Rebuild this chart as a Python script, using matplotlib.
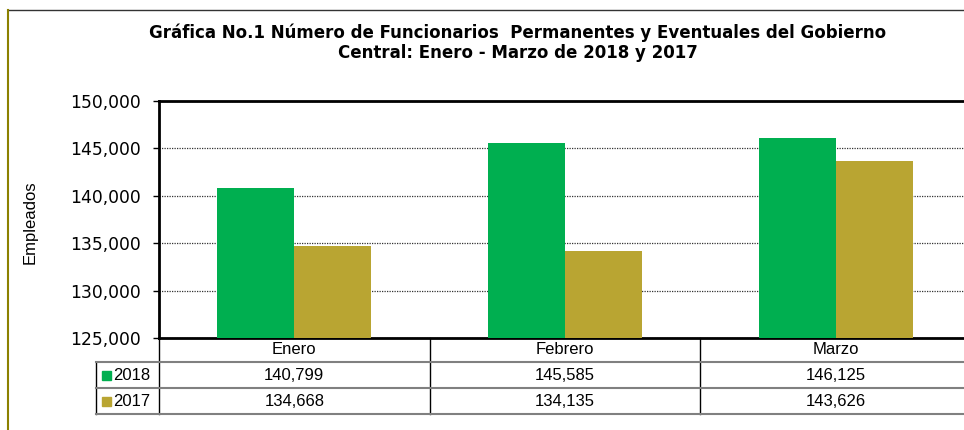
import numpy as np
import matplotlib
matplotlib.use("Agg")
import matplotlib.pyplot as plt
from matplotlib import transforms
from matplotlib.lines import Line2D
from matplotlib.patches import Rectangle

# Data
meses = ["Enero", "Febrero", "Marzo"]
anios = ["2018", "2017"]
valores_2018 = [140799, 145585, 146125]
valores_2017 = [134668, 134135, 143626]
colores = ["#00AF50", "#B9A532"]

plt.rcParams["font.family"] = ["Liberation Sans", "DejaVu Sans"]
wide = ["DejaVu Sans"]  # the reference's title and tick labels are drawn wider

W, H = 964, 430
fig = plt.figure(figsize=(W / 100, H / 100), dpi=100)

def fx(px):
    return px / W

def fy(py):
    return 1 - py / H

# plot area (right edge runs past the picture, as in the original)
ax = fig.add_axes([fx(159), fy(338), fx(971) - fx(159), fy(101) - fy(338)])
x = np.arange(len(meses))
w = 0.285
ax.bar(x - w / 2, valores_2018, w, color=colores[0], zorder=3)
ax.bar(x + w / 2, valores_2017, w, color=colores[1], zorder=3)

ax.set_xlim(-0.5, len(meses) - 0.5)
ax.set_ylim(125000, 150000)
ax.set_yticks(np.arange(125000, 150001, 5000))
ax.yaxis.set_major_formatter(matplotlib.ticker.FuncFormatter(lambda v, p: f"{v:,.0f}"))
ax.tick_params(axis="y", length=4.5, width=1, direction="out", pad=8.5)
for lab in ax.get_yticklabels():
    lab.set_family(wide)
    lab.set_fontsize(12.3)
ax.set_xticks([])
ax.grid(axis="y", color="#333333", linestyle=(0, (1, 1)), linewidth=0.9, zorder=1)
for s in ["top", "left", "bottom"]:
    ax.spines[s].set_linewidth(2)
ax.spines["right"].set_visible(False)

fig.text(fx(30), fy(222), "Empleados", rotation=90, ha="center", va="center", fontsize=12)

fig.text(fx(518), fy(33), "Gráfica No.1 Número de Funcionarios  Permanentes y Eventuales del Gobierno",
         ha="center", va="center", fontsize=12, fontweight="bold", family=wide)
fig.text(fx(518), fy(53), "Central: Enero - Marzo de 2018 y 2017",
         ha="center", va="center", fontsize=12, fontweight="bold", family=wide)

# outer frame pieces
fig.add_artist(Line2D([fx(8), 1.0], [fy(10), fy(10)], color="#333333", lw=1))
fig.add_artist(Line2D([fx(8), fx(8)], [fy(10), 0], color="#8B8000", lw=1.5))

# data table
tr = transforms.blended_transform_factory(ax.transData, fig.transFigure)
row_y = [fy(338), fy(362), fy(388), fy(414)]
for b in np.arange(len(meses) + 1) - 0.5:
    ax.add_artist(Line2D([b, b], [row_y[0], row_y[3]], transform=tr, color="black", lw=1, clip_on=False))
fig.add_artist(Line2D([fx(96), fx(96)], [row_y[1], row_y[3]], color="black", lw=1))
for yy in row_y[1:]:
    fig.add_artist(Line2D([fx(96), 1.0], [yy, yy], color="#808080", lw=1.5))

for i, m in enumerate(meses):
    ax.text(i, (row_y[0] + row_y[1]) / 2, m, transform=tr, ha="center", va="center", fontsize=12, clip_on=False)
    ax.text(i, (row_y[1] + row_y[2]) / 2, f"{valores_2018[i]:,}", transform=tr, ha="center", va="center",
            fontsize=12, clip_on=False)
    ax.text(i, (row_y[2] + row_y[3]) / 2, f"{valores_2017[i]:,}", transform=tr, ha="center", va="center",
            fontsize=12, clip_on=False)

for k, (anio, c) in enumerate(zip(anios, colores)):
    yc = (row_y[k + 1] + row_y[k + 2]) / 2
    fig.add_artist(Rectangle((fx(102), yc - 4.5 / H), 9 / W, 9 / H, color=c))
    fig.text(fx(113), yc, anio, ha="left", va="center", fontsize=12)

fig.savefig("out.png", dpi=100)
